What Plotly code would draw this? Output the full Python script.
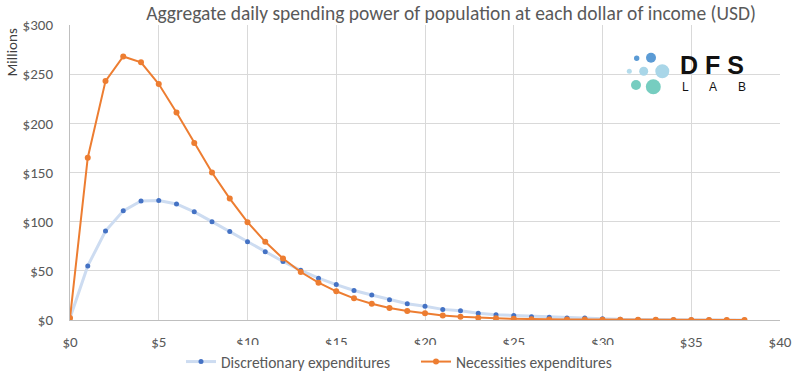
import plotly.graph_objects as go

income = list(range(0, 39))
discretionary = [2, 55, 90.5, 111, 121, 121.5, 118, 110, 100, 90, 79.5, 69.5, 59.5, 50.5, 42.5, 36, 30, 25.5, 20.7, 16.6,
                 13.9, 10.8, 9.5, 6.8, 5.4, 4.7, 3.4, 2.7, 2.0, 2.0, 1.3, 0.7, 0.5, 0.4, 0.3, 0.2, 0.2, 0.1, 0.1]
necessities = [2, 165, 243, 268, 262, 240, 211, 180, 150, 123.5, 99.5, 79.5, 62.5, 48.8, 38, 29.2, 22, 16.6, 12.2, 9.2,
               6.8, 4.7, 3.4, 2.4, 1.7, 1.2, 0.8, 0.6, 0.5, 0.4, 0.3, 0.3, 0.2, 0.2, 0.1, 0.1, 0.1, 0.1, 0.1]
x_ticks = [0, 5, 10, 15, 20, 25, 30, 35, 40]
x_labels = ["$0", "$5", "$10", "$15", "$20", "$25", "$30", "$35", "$40"]
y_ticks = [0, 50, 100, 150, 200, 250, 300]
y_labels = ["$0", "$50", "$100", "$150", "$200", "$250", "$300"]

FONT = "Calibri, Carlito, Lato, sans-serif"
GRAY = "#595959"

fig = go.Figure()
fig.add_trace(go.Scatter(x=income, y=discretionary, mode="lines+markers", name="Discretionary expenditures",
                         line=dict(color="#cddcf1", width=3), marker=dict(color="#4472c4", size=5)))
fig.add_trace(go.Scatter(x=income, y=necessities, mode="lines+markers", name="Necessities expenditures",
                         line=dict(color="#ed7d31", width=2), marker=dict(color="#ed7d31", size=6)))

fig.update_layout(
    width=800, height=382, margin=dict(l=70, r=20, t=25, b=62, autoexpand=False),
    paper_bgcolor="white", plot_bgcolor="white",
    font=dict(family=FONT, size=15, color=GRAY),
    title=dict(text="Aggregate daily spending power of population at each dollar of income (USD)",
               x=451 / 800, xanchor="center", y=1 - 13 / 382, yanchor="middle", font=dict(size=19.5, color=GRAY)),
    legend=dict(orientation="h", x=(181 - 70) / 710, xanchor="left", y=-42 / 295, yanchor="middle",
                font=dict(size=15.5, color=GRAY), itemwidth=30, entrywidth=190),
    xaxis=dict(range=[0, 40], tickvals=x_ticks, ticktext=x_labels, showgrid=True, gridcolor="#d9d9d9",
               showline=True, linecolor="#bfbfbf", zeroline=False, ticks="", ticklabelstandoff=8, automargin=False),
    yaxis=dict(range=[0, 300], tickvals=y_ticks, ticktext=y_labels, showgrid=True, gridcolor="#d9d9d9",
               showline=True, linecolor="#bfbfbf", zeroline=False, ticks="", ticklabelstandoff=13, automargin=False),
    showlegend=True,
)

fig.add_annotation(text="Millions", xref="paper", yref="paper", x=(11.5 - 70) / 710, y=(320 - 27) / 295,
                   xanchor="center", yanchor="top", textangle=-90, showarrow=False,
                   font=dict(size=15, color="#404040"))

# logo circles (pixel-sized, anchored in paper coordinates)
def px_to_paper(px, py):
    return (px - 70) / 710.0, (320 - py) / 295.0

circles = [(636.7, 58.3, 2.7, "#5b9bd5"), (651, 57.7, 5, "#5b9bd5"), (629.3, 71.3, 2.5, "#b4dcec"),
           (643.7, 71.3, 4.5, "#a9d6e8"), (662.3, 71.3, 7, "#a9d6e8"), (636, 85, 5, "#76cdc0"),
           (653.3, 86.7, 7.5, "#76cdc0")]
for cx, cy, r, col in circles:
    ax, ay = px_to_paper(cx, cy)
    fig.add_shape(type="circle", xref="paper", yref="paper", xsizemode="pixel", ysizemode="pixel",
                  xanchor=ax, yanchor=ay, x0=-r, x1=r, y0=-r, y1=r, fillcolor=col, line=dict(width=0))

lx, ly = px_to_paper(678, 65)
fig.add_annotation(text="<b>D F S</b>", xref="paper", yref="paper", x=lx, y=ly, xanchor="left", yanchor="middle",
                   showarrow=False, font=dict(family="Arial, Liberation Sans, sans-serif", size=25, color="#111111"))
for letter, cx in [("L", 685), ("A", 713), ("B", 741.5)]:
    ax, ay = px_to_paper(cx, 87)
    fig.add_annotation(text=letter, xref="paper", yref="paper", x=ax, y=ay, xanchor="center", yanchor="middle",
                       showarrow=False, font=dict(family="Arial, Liberation Sans, sans-serif", size=12, color="#111111"))

fig.write_html("out.html", config={"displayModeBar": False}, post_script="document.body.style.margin='0';")
